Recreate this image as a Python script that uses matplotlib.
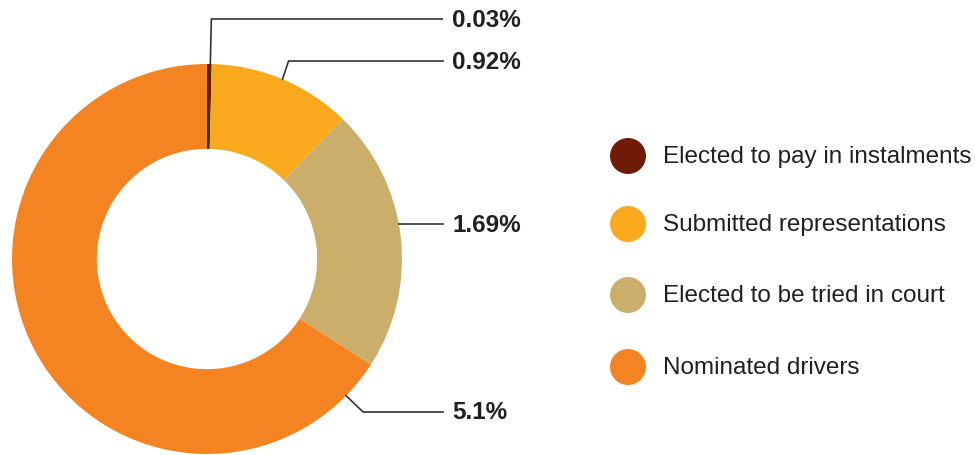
import matplotlib
matplotlib.use('Agg')

import matplotlib.pyplot as plt
from matplotlib.patches import Circle
import numpy as np

# data
categories = ["Elected to pay in instalments", "Submitted representations",
              "Elected to be tried in court", "Nominated drivers"]
values = [0.03, 0.92, 1.69, 5.1]
labels = ["0.03%", "0.92%", "1.69%", "5.1%"]
colors = ["#701A08", "#F9A91B", "#CBAE6C", "#F48422"]

plt.rcParams['font.family'] = ['Liberation Sans', 'DejaVu Sans']
txt_color = "#231F20"

W, H = 975, 456
fig = plt.figure(figsize=(W / 100, H / 100), dpi=100)
ax = fig.add_axes([0, 0, 1, 1])

cx, cy, R = 207, H - 260, 195
wedges, _ = ax.pie(values, colors=colors, startangle=90, counterclock=False,
                   center=(cx, cy), radius=R,
                   wedgeprops=dict(width=R * 0.435, linewidth=0))
ax.set_xlim(0, W)
ax.set_ylim(0, H)
ax.set_aspect('equal')
ax.axis('off')

def polar(ang, r):
    a = np.deg2rad(ang)
    return cx + r * np.sin(a), cy + r * np.cos(a)

fracs = np.array(values) / sum(values)
starts = np.concatenate([[0], np.cumsum(fracs)[:-1]]) * 360
mids = starts + fracs * 180

label_y = [20, 62, 225, 413]
line_end_x = 443
text_x = 452

# 0.03%: from inner edge through the slice straight up
x0, y0 = polar(mids[0], R * 0.565)
ax.plot([x0, x0 + 3, line_end_x], [y0, H - label_y[0], H - label_y[0]],
        color="#333333", lw=1.2, solid_capstyle='butt')
# 0.92%
x0, y0 = polar(mids[1], R)
ax.plot([x0, x0 + 6, line_end_x], [y0, H - label_y[1], H - label_y[1]],
        color="#333333", lw=1.2)
# 1.69%
yy = H - label_y[2]
x0 = cx + np.sqrt(R ** 2 - (yy - cy) ** 2)
ax.plot([x0, line_end_x], [yy, yy], color="#333333", lw=1.2)
# 5.1%
x0, y0 = polar(134.5, R)
ax.plot([x0, x0 + 17, line_end_x], [y0, H - label_y[3], H - label_y[3]],
        color="#333333", lw=1.2)

for lab, ly in zip(labels, label_y):
    ax.text(text_x, H - ly, lab, fontsize=17.5, fontweight='bold',
            color=txt_color, va='center', ha='left')

# legend
leg_y = [157, 225, 296, 368]
for cat, col, ly in zip(categories, colors, leg_y):
    ax.add_patch(Circle((628, H - ly), 18, color=col, lw=0))
    ax.text(663, H - ly, cat, fontsize=17.5, color=txt_color, va='center', ha='left')

fig.savefig("out.png", dpi=100)
